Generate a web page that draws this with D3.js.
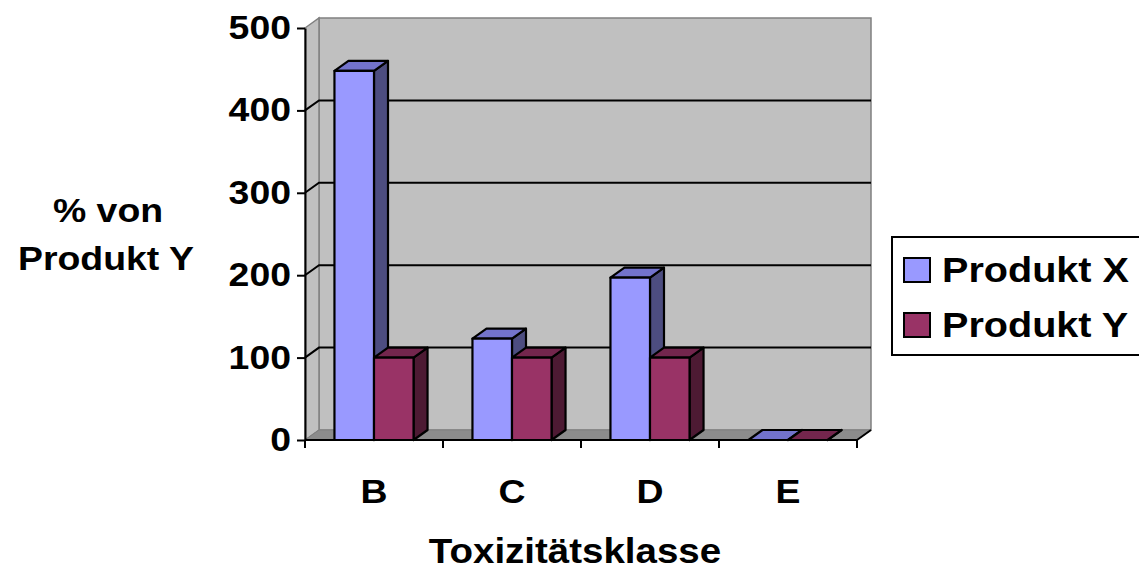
<!DOCTYPE html>
<html>
<head>
<meta charset="utf-8">
<script src="https://cdn.jsdelivr.net/npm/d3@7"></script>
<style>
  html, body { margin: 0; padding: 0; background: #fff; }
  svg { display: block; }
  text { font-family: "Liberation Sans", Arial, sans-serif; font-weight: bold; fill: #000; }
</style>
</head>
<body>
<svg id="chart" width="1139" height="570"></svg>
<script>
// Data
const categories = ["B", "C", "D", "E"];
const seriesNames = ["Produkt X", "Produkt Y"];
const produktX = [448, 123, 197, 0];
const produktY = [100, 100, 100, 0];
const yTicks = [0, 100, 200, 300, 400, 500];

const seriesValues = [produktX, produktY];
const faceColors = [
  { front: "#9999FF", top: "#7373CC", side: "#4D4D80" },
  { front: "#993366", top: "#73264D", side: "#4D1A33" }
];

const svg = d3.select("#chart");

// Plot frame (front plane) and 3-D depth offset
const plotLeft = 305, plotRight = 857, plotBottom = 440, plotTop = 28;
const dx = 14, dy = -10;

const y = d3.scaleLinear().domain([0, 500]).range([plotBottom, plotTop]);
const x0 = d3.scaleBand().domain(categories).range([plotLeft, plotRight]).paddingInner(0).paddingOuter(0);
const x1 = d3.scaleBand().domain(seriesNames).range([0, x0.bandwidth()]).paddingInner(0).paddingOuter(0.745);

const sx = 1.1; // horizontally widened lettering
function label(g, x, yy, txt, size, anchor) {
  return g.append("text")
    .attr("transform", `translate(${x},${yy}) scale(${sx},1)`)
    .attr("text-anchor", anchor || "middle")
    .attr("font-size", size)
    .text(txt);
}

const wall = svg.append("g");
// back wall
wall.append("rect")
  .attr("x", plotLeft + dx).attr("y", plotTop + dy)
  .attr("width", plotRight - plotLeft).attr("height", plotBottom - plotTop)
  .attr("fill", "#C0C0C0").attr("stroke", "#808080").attr("stroke-width", 1.5);
// side wall
wall.append("polygon")
  .attr("points", [[plotLeft, plotTop], [plotLeft + dx, plotTop + dy], [plotLeft + dx, plotBottom + dy], [plotLeft, plotBottom]].join(" "))
  .attr("fill", "#C0C0C0").attr("stroke", "#808080").attr("stroke-width", 1.5);
// floor
wall.append("polygon")
  .attr("points", [[plotLeft, plotBottom], [plotLeft + dx, plotBottom + dy], [plotRight + dx, plotBottom + dy], [plotRight, plotBottom]].join(" "))
  .attr("fill", "#8C8C8C").attr("stroke", "#808080").attr("stroke-width", 1);

// gridlines across side wall and back wall
const grid = svg.append("g");
yTicks.filter(t => t > 0 && t < 500).forEach(t => {
  grid.append("polyline")
    .attr("points", [[plotLeft, y(t)], [plotLeft + dx, y(t) + dy], [plotRight + dx, y(t) + dy]].join(" "))
    .attr("fill", "none").attr("stroke", "#000").attr("stroke-width", 2);
});

// bars
const bars = svg.append("g").attr("stroke", "#000").attr("stroke-width", 2.2).attr("stroke-linejoin", "round");
categories.forEach((c, i) => {
  seriesNames.forEach((s, j) => {
    const v = seriesValues[j][i];
    const bx = x0(c) + x1(s);
    const w = x1.bandwidth();
    const yv = y(v), y0 = y(0);
    const col = faceColors[j];
    bars.append("polygon")
      .attr("points", [[bx + w, yv], [bx + w + dx, yv + dy], [bx + w + dx, y0 + dy], [bx + w, y0]].join(" "))
      .attr("fill", col.side);
    bars.append("polygon")
      .attr("points", [[bx, yv], [bx + dx, yv + dy], [bx + w + dx, yv + dy], [bx + w, yv]].join(" "))
      .attr("fill", col.top);
    if (v > 0) {
      bars.append("rect")
        .attr("x", bx).attr("y", yv).attr("width", w).attr("height", y0 - yv)
        .attr("fill", col.front);
    }
  });
});

// y axis
const yAxis = svg.append("g")
  .attr("transform", `translate(${plotLeft},0)`)
  .call(d3.axisLeft(y).tickValues(yTicks).tickSize(8).tickSizeOuter(0).tickFormat(""));
yAxis.selectAll("path, line").attr("stroke", "#000").attr("stroke-width", 2);
yTicks.forEach(t => label(svg, plotLeft - 14, y(t) + 11, String(t), 34, "end"));

// x axis
const xg = svg.append("g").attr("stroke", "#000").attr("stroke-width", 2);
xg.append("line").attr("x1", plotLeft).attr("x2", plotRight).attr("y1", plotBottom).attr("y2", plotBottom);
xg.append("line").attr("x1", plotRight).attr("x2", plotRight + dx).attr("y1", plotBottom).attr("y2", plotBottom + dy);
categories.concat(["__end"]).forEach((c, i) => {
  const tx = i < categories.length ? x0(c) : plotRight;
  xg.append("line").attr("x1", tx).attr("x2", tx).attr("y1", plotBottom).attr("y2", plotBottom + 8);
});
categories.forEach(c => label(svg, x0(c) + x0.bandwidth() / 2, 503, c, 34));

// axis titles
label(svg, 575, 563, "Toxizitätsklasse", 35);
label(svg, 108, 222, "% von", 34);
label(svg, 106, 270, "Produkt Y", 34);

// legend
const lg = svg.append("g");
lg.append("rect").attr("x", 892).attr("y", 237).attr("width", 260).attr("height", 118)
  .attr("fill", "#fff").attr("stroke", "#000").attr("stroke-width", 2);
seriesNames.forEach((s, j) => {
  const cy = 270 + j * 55;
  lg.append("rect").attr("x", 904).attr("y", cy - 12).attr("width", 26).attr("height", 24)
    .attr("fill", faceColors[j].front).attr("stroke", "#000").attr("stroke-width", 2);
  label(lg, 942, cy + 12, s, 36, "start");
});
</script>
</body>
</html>
